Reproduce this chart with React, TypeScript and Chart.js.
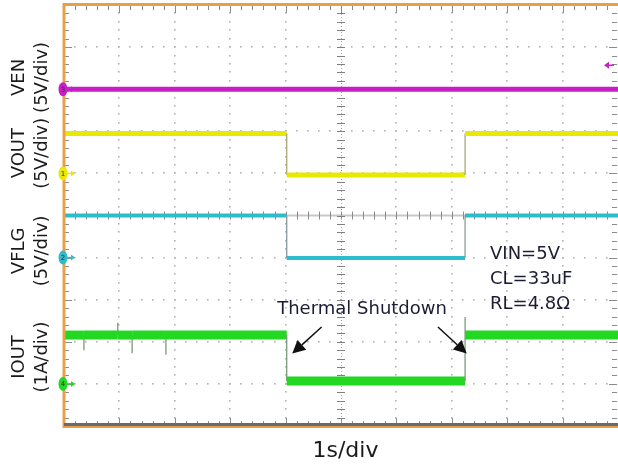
import React, { useEffect, useRef } from 'react';
import { Chart, registerables } from 'chart.js';

Chart.register(...registerables);

// ---- Channel descriptions ----
const channelNames = ['VEN', 'VOUT', 'VFLG', 'IOUT'];
const channelScaleLabels = ['(5V/div)', '(5V/div)', '(5V/div)', '(1A/div)'];
const channelUnitsPerDiv = [5, 5, 5, 1];
const channelGroundDiv = [8, 6, 4, 1];
const channelMarkerIds = ['3', '1', '2', '4'];
const channelColors = ['#c81ec8', '#e8e800', '#2ebccc', '#22d822'];
const channelEdgeColors = ['#a060a0', '#a8a878', '#8a9a9c', '#7a9a7a'];
const channelWidths = [5, 5, 4, 9];

// ---- Waveform data (time in s, values in V or A) ----
const venTime = [0, 10];
const venVolts = [0, 0];

const voutTime = [0, 4.02, 4.02, 7.24, 7.24, 10];
const voutVolts = [4.75, 4.75, -0.2, -0.2, 4.75, 4.75];

const vflgTime = [0, 4.02, 4.02, 7.24, 7.24, 10];
const vflgVolts = [5.0, 5.0, -0.05, -0.05, 5.0, 5.0];

const ioutTime = [0, 0.36, 0.36, 0.36, 0.97, 0.97, 0.97, 1.23, 1.23, 1.23, 1.84, 1.84, 1.84, 4.02, 4.02, 7.24, 7.24, 7.24, 10];
const ioutAmps = [1.16, 1.16, 0.8, 1.16, 1.16, 1.45, 1.16, 1.16, 0.73, 1.16, 1.16, 0.69, 1.16, 1.16, 0.07, 0.07, 1.59, 1.16, 1.16];

// ---- Text ----
const timeAxisLabel = '1s/div';
const annotationText = 'Thermal Shutdown';
const conditionLines = ['VIN=5V', 'CL=33uF', 'RL=4.8Ω'];

const X_DIVS = 10;
const Y_DIVS = 10;

const FONT = '"DejaVu Sans", Verdana, sans-serif';

function toPoints(times: number[], values: number[], ch: number) {
  return times.map((t, i) => ({ x: t, y: channelGroundDiv[ch] + values[i] / channelUnitsPerDiv[ch] }));
}

const graticulePlugin = {
  id: 'graticule',
  beforeDatasetsDraw(chart: any) {
    const { ctx, chartArea: a, scales } = chart;
    const xs = scales.x;
    const ys = scales.y;
    ctx.save();
    // dotted grid
    ctx.fillStyle = '#b4b4b4';
    for (let i = 1; i < X_DIVS; i++) {
      if (i === X_DIVS / 2) continue;
      const x = Math.round(xs.getPixelForValue(i));
      for (let j = 1; j < Y_DIVS * 5; j++) {
        const y = Math.round(ys.getPixelForValue(j / 5));
        ctx.fillRect(x - 1, y - 1, 1.6, 1.6);
      }
    }
    for (let j = 1; j < Y_DIVS; j++) {
      if (j === Y_DIVS / 2) continue;
      const y = Math.round(ys.getPixelForValue(j));
      for (let i = 1; i < X_DIVS * 5; i++) {
        const x = Math.round(xs.getPixelForValue(i / 5));
        ctx.fillRect(x - 1, y - 1, 1.6, 1.6);
      }
    }
    // center horizontal line
    const cy = ys.getPixelForValue(Y_DIVS / 2);
    const cx = xs.getPixelForValue(X_DIVS / 2);
    ctx.fillStyle = '#c8c8c8';
    ctx.fillRect(a.left, cy - 1, a.right - a.left, 2);
    ctx.strokeStyle = '#8a8a8a';
    ctx.lineWidth = 1;
    ctx.beginPath();
    for (let i = 1; i < X_DIVS * 5; i++) {
      const x = Math.round(xs.getPixelForValue(i / 5)) + 0.5;
      ctx.moveTo(x, cy - 4);
      ctx.lineTo(x, cy + 4);
    }
    ctx.stroke();
    // center vertical line
    ctx.strokeStyle = '#a0a0a0';
    ctx.setLineDash([1, 2]);
    ctx.beginPath();
    ctx.moveTo(Math.round(cx) + 0.5, a.top);
    ctx.lineTo(Math.round(cx) + 0.5, a.bottom);
    ctx.stroke();
    ctx.setLineDash([]);
    ctx.strokeStyle = '#808080';
    ctx.beginPath();
    for (let j = 1; j < Y_DIVS * 5; j++) {
      const y = Math.round(ys.getPixelForValue(j / 5)) + 0.5;
      ctx.moveTo(cx - 4, y);
      ctx.lineTo(cx + 4, y);
    }
    ctx.stroke();
    // edge ticks
    ctx.strokeStyle = '#8c8c8c';
    ctx.beginPath();
    for (let i = 1; i < X_DIVS * 5; i++) {
      const x = Math.round(xs.getPixelForValue(i / 5)) + 0.5;
      const len = i % 5 === 0 ? 8 : 5;
      ctx.moveTo(x, a.top);
      ctx.lineTo(x, a.top + len);
      ctx.moveTo(x, a.bottom);
      ctx.lineTo(x, a.bottom - len);
    }
    for (let j = 1; j < Y_DIVS * 5; j++) {
      const y = Math.round(ys.getPixelForValue(j / 5)) + 0.5;
      const len = j % 5 === 0 ? 8 : 5;
      ctx.moveTo(a.left, y);
      ctx.lineTo(a.left + len, y);
      ctx.moveTo(a.right - 1, y);
      ctx.lineTo(a.right - 1 - len, y);
    }
    ctx.stroke();
    ctx.restore();
  },
  afterDatasetsDraw(chart: any) {
    const { ctx, chartArea: a, scales } = chart;
    const xs = scales.x;
    const ys = scales.y;
    ctx.save();
    // frame
    ctx.fillStyle = '#e8a048';
    ctx.fillRect(a.left, a.top - 2, a.right - a.left, 3);
    ctx.fillRect(a.left - 1.5, a.top - 2, 3, a.bottom - a.top + 4);
    ctx.fillStyle = '#6a6a6a';
    ctx.fillRect(a.left, a.bottom - 3, a.right - a.left, 3);
    ctx.fillStyle = '#e8a048';
    ctx.fillRect(a.left, a.bottom, a.right - a.left, 2);

    // ground markers
    channelNames.forEach((_, ch) => {
      const y = ys.getPixelForValue(channelGroundDiv[ch]);
      const x = a.left - 1;
      const c = channelColors[ch];
      ctx.fillStyle = c;
      ctx.beginPath();
      ctx.ellipse(x, y, 4.5, 7, 0, 0, Math.PI * 2);
      ctx.fill();
      ctx.strokeStyle = c;
      ctx.lineWidth = 1.5;
      ctx.beginPath();
      ctx.moveTo(x + 4, y);
      ctx.lineTo(x + 9, y);
      ctx.stroke();
      ctx.beginPath();
      ctx.moveTo(x + 12, y);
      ctx.lineTo(x + 8, y - 3);
      ctx.lineTo(x + 8, y + 3);
      ctx.closePath();
      ctx.fill();
      ctx.fillStyle = '#333';
      ctx.font = `7px ${FONT}`;
      ctx.textAlign = 'center';
      ctx.textBaseline = 'middle';
      ctx.fillText(channelMarkerIds[ch], x, y + 0.5);
    });

    // trigger level arrow (right side, VEN channel)
    const ty = ys.getPixelForValue(8.57);
    ctx.fillStyle = channelColors[0];
    ctx.strokeStyle = channelColors[0];
    ctx.lineWidth = 1.5;
    ctx.beginPath();
    ctx.moveTo(a.right - 14, ty);
    ctx.lineTo(a.right - 9, ty - 3.5);
    ctx.lineTo(a.right - 9, ty + 3.5);
    ctx.closePath();
    ctx.fill();
    ctx.beginPath();
    ctx.moveTo(a.right - 9, ty);
    ctx.lineTo(a.right - 4, ty);
    ctx.stroke();

    // annotation arrows
    const arrow = (x0: number, y0: number, x1: number, y1: number) => {
      const px0 = xs.getPixelForValue(x0);
      const py0 = ys.getPixelForValue(y0);
      const px1 = xs.getPixelForValue(x1);
      const py1 = ys.getPixelForValue(y1);
      const ang = Math.atan2(py1 - py0, px1 - px0);
      const head = 13;
      const hw = 6.5;
      const bx = px1 - head * Math.cos(ang);
      const by = py1 - head * Math.sin(ang);
      ctx.strokeStyle = '#111';
      ctx.fillStyle = '#111';
      ctx.lineWidth = 1.5;
      ctx.beginPath();
      ctx.moveTo(px0, py0);
      ctx.lineTo(bx, by);
      ctx.stroke();
      ctx.beginPath();
      ctx.moveTo(px1, py1);
      ctx.lineTo(bx + hw * Math.sin(ang), by - hw * Math.cos(ang));
      ctx.lineTo(bx - hw * Math.sin(ang), by + hw * Math.cos(ang));
      ctx.closePath();
      ctx.fill();
    };
    arrow(4.65, 2.35, 4.12, 1.72);
    arrow(6.75, 2.35, 7.27, 1.72);

    // texts
    ctx.fillStyle = '#1c1c34';
    ctx.textAlign = 'center';
    ctx.textBaseline = 'middle';
    ctx.font = `18px ${FONT}`;
    ctx.fillText(annotationText, xs.getPixelForValue(5.38), ys.getPixelForValue(2.76));
    ctx.textAlign = 'left';
    conditionLines.forEach((t, i) => {
      ctx.fillText(t, xs.getPixelForValue(7.69), ys.getPixelForValue(4.07) + i * 25);
    });

    // channel labels (rotated)
    const labelCenters = [8.28, 6.48, 4.16, 1.64];
    ctx.fillStyle = '#1a1a1a';
    ctx.font = `18px ${FONT}`;
    ctx.textAlign = 'center';
    channelNames.forEach((name, ch) => {
      const y = ys.getPixelForValue(labelCenters[ch]);
      ctx.save();
      ctx.translate(19, y);
      ctx.rotate(-Math.PI / 2);
      ctx.fillText(name, 0, 0);
      ctx.restore();
      ctx.save();
      ctx.translate(42, y);
      ctx.rotate(-Math.PI / 2);
      ctx.fillText(channelScaleLabels[ch], 0, 0);
      ctx.restore();
    });

    // time base label
    ctx.fillStyle = '#1a1a1a';
    ctx.font = `22px ${FONT}`;
    ctx.textAlign = 'center';
    ctx.fillText(timeAxisLabel, xs.getPixelForValue(5.08), a.bottom + 25);
    ctx.restore();
  },
};

export default function App() {
  const ref = useRef<HTMLCanvasElement | null>(null);
  useEffect(() => {
    if (!ref.current) return;
    const series = [
      toPoints(venTime, venVolts, 0),
      toPoints(voutTime, voutVolts, 1),
      toPoints(vflgTime, vflgVolts, 2),
      toPoints(ioutTime, ioutAmps, 3),
    ];
    const chart = new Chart(ref.current, {
      type: 'line',
      data: {
        datasets: series.map((data, ch) => ({
          label: channelNames[ch],
          data,
          borderColor: channelColors[ch],
          borderWidth: channelWidths[ch],
          pointRadius: 0,
          tension: 0,
          fill: false,
          segment: {
            borderWidth: (c: any) => (c.p0.parsed.x === c.p1.parsed.x ? 1.3 : undefined),
            borderColor: (c: any) => (c.p0.parsed.x === c.p1.parsed.x ? channelEdgeColors[ch] : undefined),
          },
        })),
      },
      options: {
        responsive: false,
        animation: false,
        layout: { padding: { left: 64, top: 5, right: 0, bottom: 44 } },
        plugins: { legend: { display: false }, tooltip: { enabled: false } },
        scales: {
          x: { type: 'linear', min: 0, max: X_DIVS, display: false },
          y: { type: 'linear', min: 0, max: Y_DIVS, display: false },
        },
      },
      plugins: [graticulePlugin],
    });
    return () => chart.destroy();
  }, []);
  return (
    <div style={{ position: 'absolute', left: 0, top: 0, width: 618, height: 470, background: '#fff' }}>
      <canvas ref={ref} width={618} height={470} />
    </div>
  );
}
